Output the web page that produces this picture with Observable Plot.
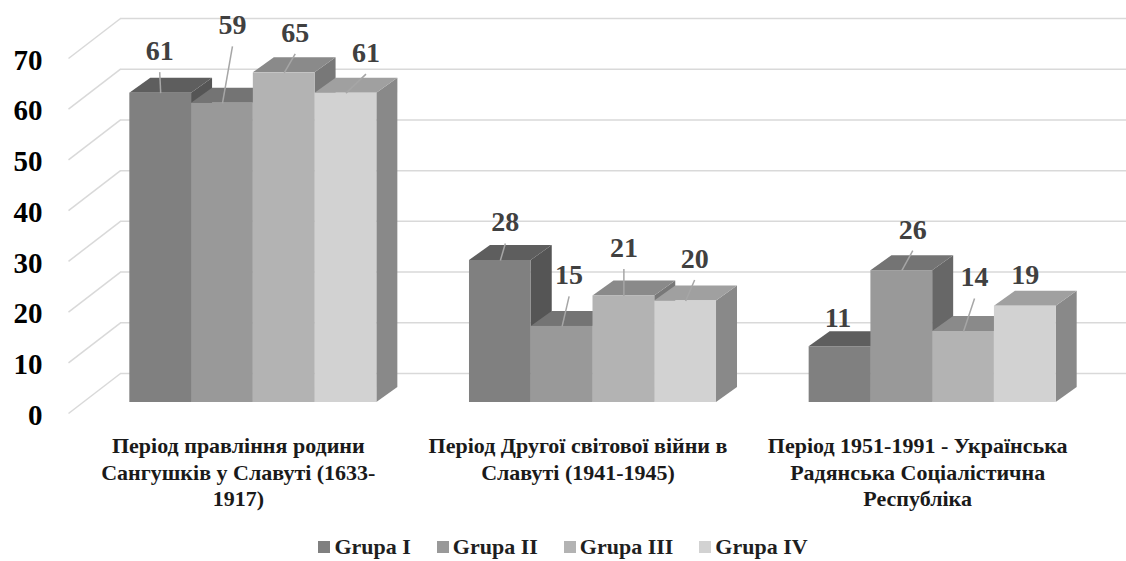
<!DOCTYPE html>
<html>
<head>
<meta charset="utf-8">
<script src="https://cdn.jsdelivr.net/npm/d3@7"></script>
<script src="https://cdn.jsdelivr.net/npm/@observablehq/plot@0.6"></script>
<style>
  html, body { margin: 0; padding: 0; background: #fff; overflow: hidden; }
  #legend { display: flex; justify-content: center; align-items: center; gap: 26px; height: 30px; margin-top: 12px;
    font-family: "Liberation Serif", "DejaVu Serif", serif; font-weight: bold; font-size: 22px; color: #1f1f1f; }
  #legend .item { display: flex; align-items: center; }
  #legend .sw { width: 12px; height: 12px; margin-right: 4px; display: inline-block; }
</style>
</head>
<body>
<div id="chart"></div>
<div id="legend"></div>
<script>
// ---- data ----
const categories = [
  "Період правління родини\nСангушків у Славуті (1633-\n1917)",
  "Період Другої світової війни в\nСлавуті (1941-1945)",
  "Період 1951-1991 - Українська\nРадянська Соціалістична\nРеспубліка"
];
const groups = ["Grupa I", "Grupa II", "Grupa III", "Grupa IV"];
const grupaI   = [61, 28, 11];
const grupaII  = [59, 15, 26];
const grupaIII = [65, 21, 14];
const grupaIV  = [61, 20, 19];
const yTicks = [0, 10, 20, 30, 40, 50, 60, 70];

// ---- styles (not data) ----
const frontColors = ["#808080", "#999999", "#b3b3b3", "#d2d2d2"];
const topColors   = ["#5e5e5e", "#747474", "#8a8a8a", "#a0a0a0"];
const sideColors  = ["#555555", "#676767", "#787878", "#898989"];
// label placement (px): horizontal nudge and lift above the bar top
const labelNudgeX = [[-1, 10, 11, 20], [5, 7, 0, 9], [-2, 11, 11, 0]];
const labelLift   = [[42, 78, 40, 40], [38, 51, 48, 42], [29, 41, 54, 31]];

// ---- layout ----
const W = 1126, H = 520;
const mL = 83, mR = 24, mT = 47, mB = 118;
const catStep = 5.5;               // 4 bars + 150% gap
const xDomain = [-0.75, categories.length * catStep - 0.75];
const pxX = (W - mL - mR) / (xDomain[1] - xDomain[0]);
const pxY = (H - mT - mB) / 70;
const depth = {dx: 21, dy: 15};     // bar depth in px
const back = {dx: 37, dy: -29};     // back wall offset from bar plane
const front = {dx: -15, dy: 11};    // front (axis) plane offset
const dxU = depth.dx / pxX, dyU = depth.dy / pxY;

const series = [grupaI, grupaII, grupaIII, grupaIV];
const bars = [];
categories.forEach((c, i) => {
  series.forEach((vals, j) => {
    bars.push({id: i * 4 + j, cat: i, g: j, v: vals[i], x0: i * catStep + j});
  });
});
const sides = bars.flatMap(b => [
  {id: b.id, x: b.x0 + 1, y1: 0, y2: b.v, c: sideColors[b.g]},
  {id: b.id, x: b.x0 + 1 + dxU, y1: dyU, y2: b.v + dyU, c: sideColors[b.g]}
]);
const tops = bars.flatMap(b => [
  {id: b.id, y: b.v, x1: b.x0, x2: b.x0 + 1, c: topColors[b.g]},
  {id: b.id, y: b.v + dyU, x1: b.x0 + dxU, x2: b.x0 + 1 + dxU, c: topColors[b.g]}
]);
const labels = bars.map(b => {
  const nx = labelNudgeX[b.cat][b.g], lift = labelLift[b.cat][b.g];
  return {
    ...b,
    lx: b.x0 + 0.5 + nx / pxX,
    ly: b.v + lift / pxY,
    leadTop: b.v + (lift - 21) / pxY,
    hasLead: lift - 21 > 12
  };
});

const font = "'Liberation Serif', 'DejaVu Serif', serif";

const chart = Plot.plot({
  width: W, height: H,
  marginLeft: mL, marginRight: mR, marginTop: mT, marginBottom: mB,
  x: {type: "linear", domain: xDomain, axis: null},
  y: {type: "linear", domain: [0, 70], axis: null},
  color: {type: "identity"},
  style: {fontFamily: font, background: "#fff", overflow: "visible"},
  marks: [
    // back wall gridlines
    Plot.ruleY(yTicks, {y: d => d, x1: xDomain[0], x2: xDomain[1], dx: back.dx, dy: back.dy, stroke: "#d9d9d9", strokeWidth: 1.5}),
    // side wall diagonals
    Plot.link(yTicks, {
      x1: xDomain[0] + front.dx / pxX, y1: d => d - front.dy / pxY,
      x2: xDomain[0] + back.dx / pxX, y2: d => d - back.dy / pxY,
      stroke: "#d9d9d9", strokeWidth: 1.5
    }),
    // y labels (front plane)
    Plot.text(yTicks, {x: xDomain[0], y: d => d, text: d => String(d), textAnchor: "end",
      dx: 42 - mL, dy: front.dy + 2, fontSize: 29, fontWeight: "bold", fill: "#000", fontFamily: font}),
    // 3D bars
    Plot.areaY(sides, {x: "x", y1: "y1", y2: "y2", z: "id", fill: "c"}),
    Plot.areaX(tops, {y: "y", x1: "x1", x2: "x2", z: "id", fill: "c"}),
    Plot.rect(bars, {x1: "x0", x2: d => d.x0 + 1, y1: 0, y2: "v", fill: d => frontColors[d.g]}),
    // leader lines
    Plot.link(labels.filter(d => d.hasLead), {x1: d => d.x0 + 0.5, y1: "v", x2: "lx", y2: "leadTop", stroke: "#a6a6a6", strokeWidth: 1.5}),
    // value labels
    Plot.text(labels, {x: "lx", y: "ly", text: d => String(d.v), fontSize: 28, fontWeight: "bold", fill: "#404040", fontFamily: font}),
    // category labels
    Plot.text(categories, {x: (d, i) => i * catStep + 1.5 + 0.5, y: 0, text: d => d, lineAnchor: "top",
      dx: front.dx, dy: 32, fontSize: 22, lineHeight: 1.2, fontWeight: "bold", fill: "#1a1a1a", fontFamily: font})
  ]
});
document.getElementById("chart").appendChild(chart);

const legend = document.getElementById("legend");
groups.forEach((g, j) => {
  const item = document.createElement("div");
  item.className = "item";
  const sw = document.createElement("span");
  sw.className = "sw";
  sw.style.background = frontColors[j];
  item.appendChild(sw);
  item.appendChild(document.createTextNode(g));
  legend.appendChild(item);
});
</script>
</body>
</html>
